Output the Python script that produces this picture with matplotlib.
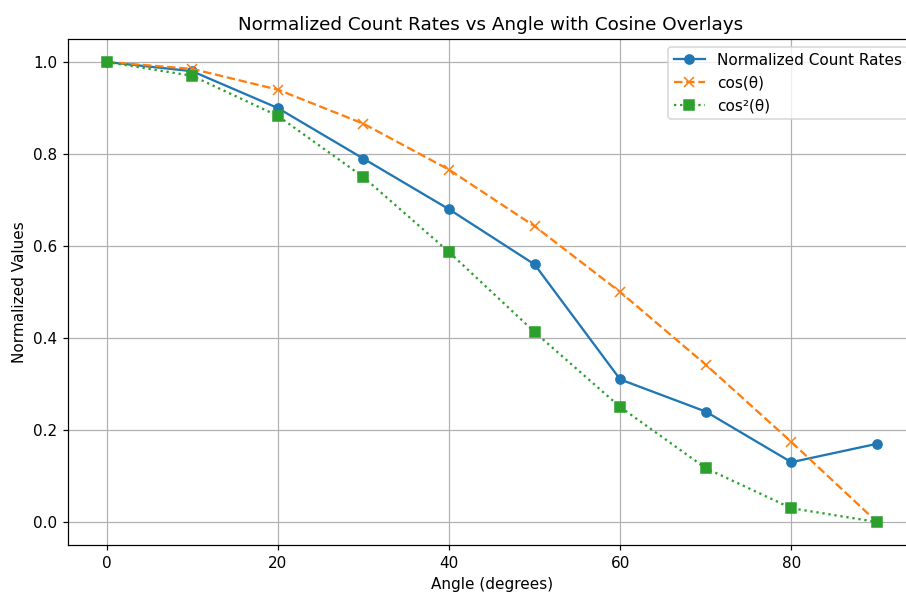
import matplotlib
matplotlib.use("Agg")
import matplotlib.pyplot as plt
import numpy as np

angles = [0, 10, 20, 30, 40, 50, 60, 70, 80, 90]
count_rates = [1.0, 0.98, 0.90, 0.79, 0.68, 0.56, 0.31, 0.24, 0.13, 0.17]
cos_vals = [1.0, 0.985, 0.940, 0.866, 0.766, 0.643, 0.500, 0.342, 0.174, 0.0]
cos2_vals = [1.0, 0.970, 0.883, 0.750, 0.587, 0.413, 0.250, 0.117, 0.030, 0.0]

DPI = 110
W, H = 940, 595   # drawn wider, then cut to 906 so the right spine falls off
fig = plt.figure(figsize=(W / DPI, H / DPI), dpi=DPI)
ax = fig.add_axes([68 / W, 50 / H, 847.5 / W, 506 / H])

ax.plot(angles, count_rates, marker='o', linestyle='-', label='Normalized Count Rates')
ax.plot(angles, cos_vals, marker='x', linestyle='--', label='cos(θ)')
ax.plot(angles, cos2_vals, marker='s', linestyle=':', label='cos²(θ)')

ax.set_title('Normalized Count Rates vs Angle with Cosine Overlays', x=(491 - 68) / 847.5)
ax.set_xlabel('Angle (degrees)')
ax.set_ylabel('Normalized Values')
ax.grid(True)
ax.legend(loc='upper right')

fig.canvas.draw()
img = np.asarray(fig.canvas.buffer_rgba())[:, :906]
plt.imsave('out.png', img)
